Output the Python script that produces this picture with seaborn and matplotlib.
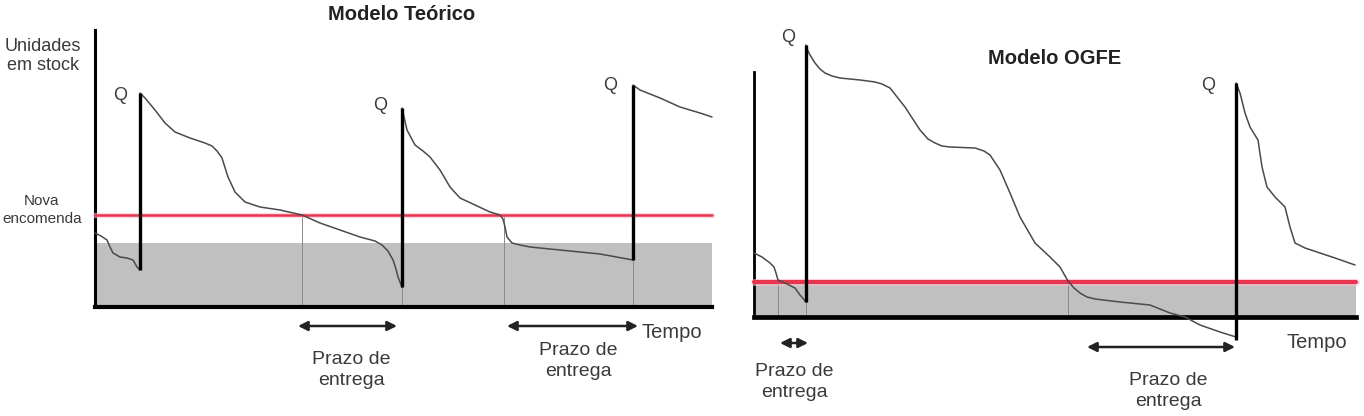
import matplotlib
matplotlib.use("Agg")
import matplotlib.pyplot as plt
import seaborn as sns
import pandas as pd

# ---------------- data (time units / stock units) -------------
# Left panel: "Modelo Teórico"
teo_t0 = [0, 6, 12, 15, 18, 25, 32, 38, 42, 45]
teo_s0 = [74, 71, 67, 60, 54, 50, 49, 47, 40, 37]
teo_t1 = [45, 50, 60, 70, 80, 95, 110, 117, 122, 127, 133, 140, 150, 165, 185, 207, 225, 245, 265,
          280, 287, 293, 298, 301, 303, 307]
teo_s1 = [214, 209, 197, 184, 175, 169, 164, 161, 156, 149, 130, 115, 105, 100, 97, 92, 84, 77, 70,
          66, 62, 56, 47, 38, 30, 20]
teo_t2 = [307, 312, 320, 328, 335, 345, 355, 365, 380, 395, 405, 408, 410, 412, 417, 425, 435, 465, 505, 538]
teo_s2 = [199, 177, 162, 156, 150, 137, 120, 109, 102, 95, 92, 88, 80, 70, 64, 62, 60, 57, 53, 47]
teo_t3 = [538, 545, 565, 585, 605, 617]
teo_s3 = [222, 217, 209, 200, 194, 190]
teo_jump_t = [45, 307, 538]
teo_jump_lo = [37, 20, 47]
teo_jump_hi = [214, 199, 222]
teo_reorder = 92
teo_safety = 64
teo_drop_t = [207, 307, 409, 538]
teo_drop_top = [92, 20, 92, 47]
teo_lead_from = [203, 412]
teo_lead_to = [302, 543]
teo_lead_level = [-19, -19]

# Right panel: "Modelo OGFE"
ogfe_t0 = [0, 8, 16, 20, 22, 24, 31, 41, 46, 52]
ogfe_s0 = [64, 60, 54, 50, 44, 37, 34, 29, 22, 15]
ogfe_t1 = [52, 54, 56, 61, 66, 71, 78, 86, 106, 121, 128, 136, 151, 166, 174, 181, 188, 196, 221,
           230, 236, 246, 256, 266, 281, 296, 306, 314, 320, 326, 333, 341, 366, 396, 416, 431,
           446, 466, 482]
ogfe_s1 = [272, 266, 262, 254, 248, 244, 241, 239, 237, 235, 233, 229, 210, 187, 178, 174, 171, 170,
           169, 166, 162, 147, 124, 100, 74, 60, 50, 36, 29, 24, 20, 18, 15, 12, 4, 0,
           -8, -15, -20]
ogfe_t2 = [482, 486, 491, 496, 504, 508, 513, 521, 531, 536, 541, 551, 566, 581, 601]
ogfe_s2 = [234, 224, 204, 190, 177, 150, 130, 120, 110, 90, 74, 69, 64, 59, 52]
ogfe_jump_t = [52, 482]
ogfe_jump_lo = [15, -23]
ogfe_jump_hi = [272, 234]
ogfe_reorder = 35
ogfe_safety = 33
ogfe_drop_t = [24, 52, 314]
ogfe_drop_top = [37, 15, 36]
ogfe_lead_from = [26, 333]
ogfe_lead_to = [54, 481]
ogfe_lead_level = [-26, -30]

lead_label = "Prazo de\nentrega"

# ---------------- style -------------
sns.set_theme(style="white")
plt.rcParams["font.family"] = ["Liberation Sans", "DejaVu Sans"]
TXT = "#3a3a3a"
CURVE = "#4a4a4a"
GRAY = "#c0c0c0"

W, H = 1364, 416
fig = plt.figure(figsize=(W / 100, H / 100), dpi=100)
fig.patch.set_facecolor("white")

ax1 = fig.add_axes([95 / W, 109 / H, 617 / W, 277 / H])
ax2 = fig.add_axes([754 / W, 99 / H, 602 / W, 245 / H])


def segments_frame(ts, ss):
    rows = []
    for k, (t, s) in enumerate(zip(ts, ss)):
        for a, b in zip(t, s):
            rows.append({"t": a, "s": b, "seg": k})
    return pd.DataFrame(rows)


def draw_panel(ax, df, jt, jlo, jhi, reorder, safety, red_lw, drop_t, drop_top,
               lf, lt, ll, xmax, ymax, spine_w):
    ax.set_xlim(0, xmax)
    ax.set_ylim(0, ymax)
    ax.fill_between([0, xmax], 0, safety, color=GRAY, lw=0, zorder=1)
    ax.vlines(drop_t, 0, drop_top, color="#8a8a8a", lw=0.7, zorder=2)
    ax.axhline(reorder, color="#ffc2cc", lw=red_lw + 2.0, zorder=3, alpha=0.6)
    ax.axhline(reorder, color="#e8354f", lw=red_lw, zorder=3)
    sns.lineplot(data=df, x="t", y="s", units="seg", estimator=None, sort=False,
                 color=CURVE, lw=1.1, ax=ax, zorder=4, legend=False)
    ax.vlines(jt, jlo, jhi, color="black", lw=2.4, zorder=5)
    for a, b, y in zip(lf, lt, ll):
        ax.annotate("", xy=(b, y), xytext=(a, y), xycoords="data",
                    arrowprops=dict(arrowstyle="<|-|>", color="#222222", lw=1.8,
                                    mutation_scale=14, shrinkA=0, shrinkB=0),
                    annotation_clip=False)
    for ln in ax.lines:
        ln.set_clip_on(False)
    for c in ax.collections:
        c.set_clip_on(False)
    ax.set_xlabel("")
    ax.set_ylabel("")
    ax.set_xticks([])
    ax.set_yticks([])
    for side in ["top", "right"]:
        ax.spines[side].set_visible(False)
    ax.spines["left"].set_linewidth(spine_w[0])
    ax.spines["bottom"].set_linewidth(spine_w[1])
    ax.spines["left"].set_color("black")
    ax.spines["bottom"].set_color("black")
    ax.set_facecolor("none")


df1 = segments_frame([teo_t0, teo_t1, teo_t2, teo_t3], [teo_s0, teo_s1, teo_s2, teo_s3])
df2 = segments_frame([ogfe_t0, ogfe_t1, ogfe_t2], [ogfe_s0, ogfe_s1, ogfe_s2])

draw_panel(ax1, df1, teo_jump_t, teo_jump_lo, teo_jump_hi, teo_reorder, teo_safety, 1.8,
           teo_drop_t, teo_drop_top, teo_lead_from, teo_lead_to, teo_lead_level, 617, 277, (2.2, 3.0))
draw_panel(ax2, df2, ogfe_jump_t, ogfe_jump_lo, ogfe_jump_hi, ogfe_reorder, ogfe_safety, 3.0,
           ogfe_drop_t, ogfe_drop_top, ogfe_lead_from, ogfe_lead_to, ogfe_lead_level, 602, 245, (2.0, 3.4))

# ---------------- text -------------
ax1.text(307, 292, "Modelo Teórico", ha="center", va="center", fontsize=14.5,
         fontweight="bold", color="#222222")
ax1.text(-52, 251, "Unidades\nem stock", ha="center", va="center", fontsize=13,
         color=TXT, linespacing=1.1)
ax1.text(-53, 97, "Nova\nencomenda", ha="center", va="center", fontsize=11,
         color=TXT, linespacing=1.35)
for t, s in [(25, 211), (285, 202), (515, 222)]:
    ax1.text(t, s, "Q", ha="center", va="center", fontsize=13, color=TXT)
ax1.text(577, -25, "Tempo", ha="center", va="center", fontsize=14.5, color=TXT)
ax1.text(256, -63, lead_label, ha="center", va="center", fontsize=14, color=TXT, linespacing=1.35)
ax1.text(483, -54, lead_label, ha="center", va="center", fontsize=14, color=TXT, linespacing=1.35)

ax2.text(301, 259, "Modelo OGFE", ha="center", va="center", fontsize=14.5,
         fontweight="bold", color="#222222")
for t, s in [(34, 279), (454, 232)]:
    ax2.text(t, s, "Q", ha="center", va="center", fontsize=13, color=TXT)
ax2.text(563, -25, "Tempo", ha="center", va="center", fontsize=14.5, color=TXT)
ax2.text(40, -65, lead_label, ha="center", va="center", fontsize=14, color=TXT, linespacing=1.35)
ax2.text(414, -74, lead_label, ha="center", va="center", fontsize=14, color=TXT, linespacing=1.35)

fig.savefig("out.png", dpi=100, facecolor="white")
